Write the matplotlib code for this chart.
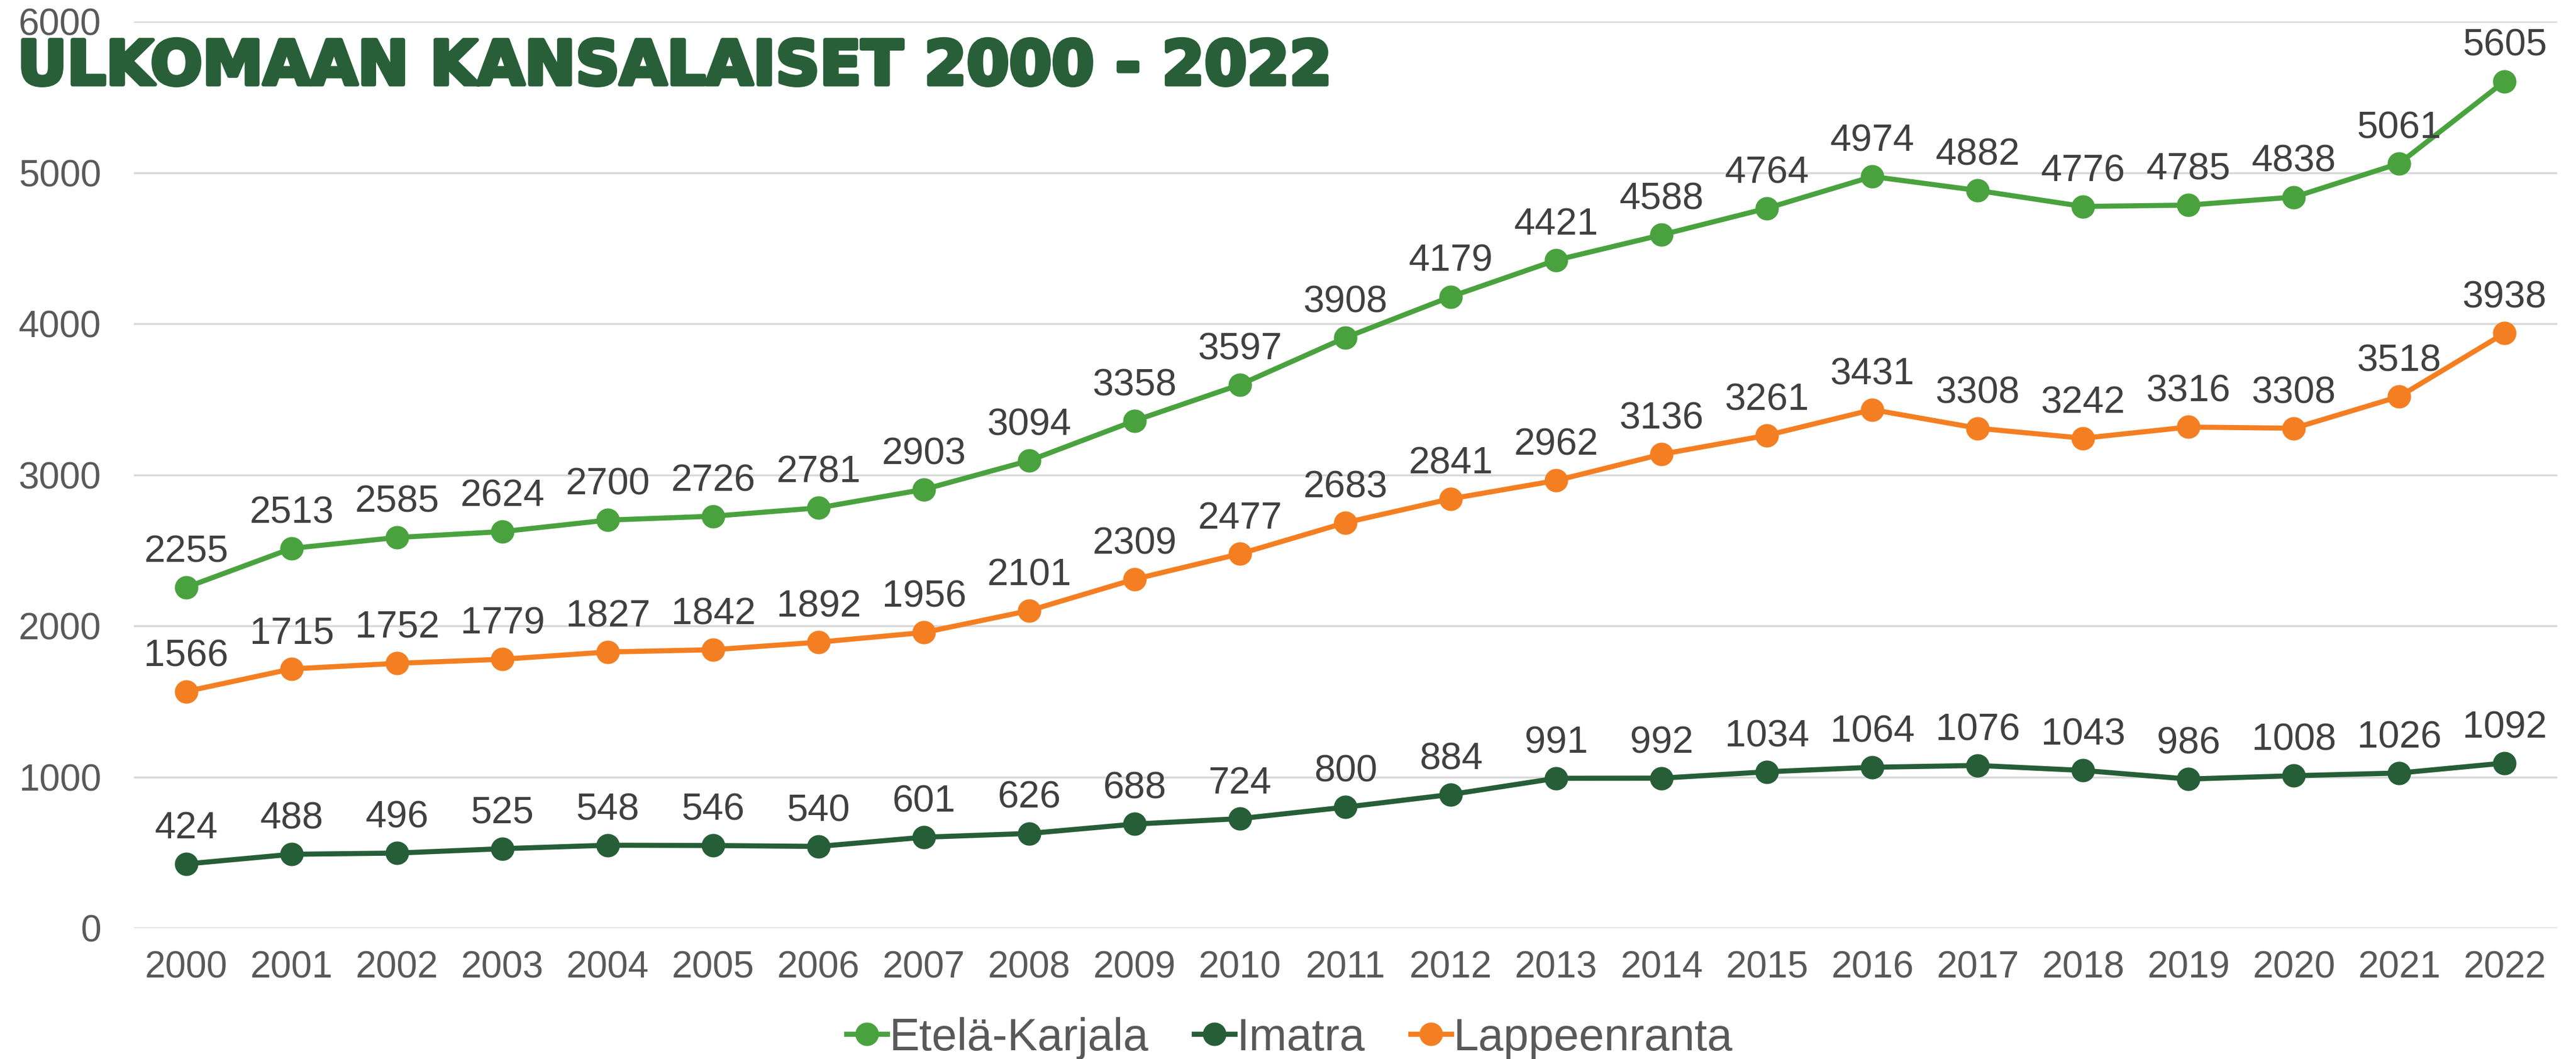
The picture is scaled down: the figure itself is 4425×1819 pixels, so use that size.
import matplotlib
matplotlib.use("Agg")
import matplotlib.pyplot as plt
import matplotlib.patheffects as pe

years = [str(y) for y in range(2000, 2023)]
etela_karjala = [2255, 2513, 2585, 2624, 2700, 2726, 2781, 2903, 3094, 3358, 3597, 3908,
                 4179, 4421, 4588, 4764, 4974, 4882, 4776, 4785, 4838, 5061, 5605]
imatra = [424, 488, 496, 525, 548, 546, 540, 601, 626, 688, 724, 800,
          884, 991, 992, 1034, 1064, 1076, 1043, 986, 1008, 1026, 1092]
lappeenranta = [1566, 1715, 1752, 1779, 1827, 1842, 1892, 1956, 2101, 2309, 2477, 2683,
                2841, 2962, 3136, 3261, 3431, 3308, 3242, 3316, 3308, 3518, 3938]
yticks = [0, 1000, 2000, 3000, 4000, 5000, 6000]

series = [
    ("Etelä-Karjala", etela_karjala, "#4AA23F"),
    ("Imatra", imatra, "#265E37"),
    ("Lappeenranta", lappeenranta, "#F47F22"),
]

plt.rcParams['font.family'] = ['Liberation Sans', 'DejaVu Sans']

W, H = 4425, 1819
fig = plt.figure(figsize=(W / 100, H / 100), dpi=100)
ax = fig.add_axes([229.5 / W, 1 - 1594 / H, (4393 - 229.5) / W, (1594 - 37) / H])

x = list(range(len(years)))
for name, vals, col in series:
    ax.plot(x, vals, color=col, lw=6.3, marker="o", ms=28, label=name, zorder=3)
    for xi, v in zip(x, vals):
        ax.annotate(str(v), (xi, v), xytext=(0, 22), textcoords="offset points",
                    ha="center", va="bottom", fontsize=47, color="#404040", zorder=4)

ax.set_xlim(-0.5, len(years) - 0.5)
ax.set_ylim(0, 6000)
ax.set_yticks(yticks)
ax.set_xticks(x)
ax.set_xticklabels(years)
ax.tick_params(axis="both", length=0, labelsize=46, labelcolor="#595959")
ax.tick_params(axis="y", pad=40)
ax.tick_params(axis="x", pad=28)
ax.grid(axis="y", color="#D9D9D9", lw=2.5)
ax.set_axisbelow(True)
for s in ax.spines.values():
    s.set_visible(False)

# heavy title - stroke makes the bold font a bit fatter
fig.text(30 / W, 1 - 145 / H, "ULKOMAAN KANSALAISET 2000 - 2022", fontsize=75.5,
         fontweight="heavy", color="#285F38", family="DejaVu Sans", ha="left", va="baseline",
         path_effects=[pe.withStroke(linewidth=5, foreground="#285F38")])

fig.legend(loc="center", bbox_to_anchor=(0.5006, 1 - 1783 / H), ncol=3, frameon=False,
           fontsize=56, handlelength=0.9, handletextpad=0.05, columnspacing=1.0,
           labelcolor="#595959")

fig.savefig("out.png", dpi=100)
